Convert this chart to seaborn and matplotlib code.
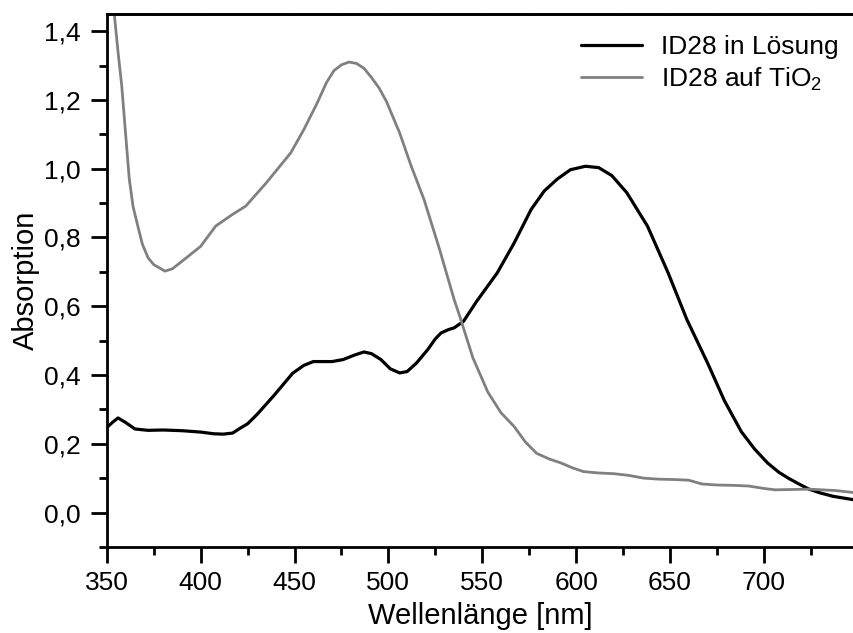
import numpy as np
import pandas as pd
import matplotlib
matplotlib.use("Agg")
import matplotlib.pyplot as plt
from matplotlib.ticker import MultipleLocator, FuncFormatter
import seaborn as sns

# --- data ---
wl_loesung = [350, 353, 356, 360, 365, 372, 380, 390, 400, 407, 412, 417, 421, 425,
              430, 439, 449, 455, 460, 465, 470, 476, 482, 487, 491, 496, 501, 506,
              510, 515, 521, 525, 528, 532, 535, 540, 547, 558, 567, 576, 583, 590,
              597, 605, 612, 619, 627, 638, 649, 659, 670, 679, 688, 695, 702, 708,
              713, 719, 724, 730, 737, 748]
abs_loesung = [0.247, 0.262, 0.275, 0.262, 0.243, 0.239, 0.240, 0.238, 0.234, 0.229,
               0.228, 0.231, 0.245, 0.258, 0.285, 0.340, 0.405, 0.428, 0.439, 0.439,
               0.439, 0.445, 0.458, 0.467, 0.462, 0.445, 0.418, 0.406, 0.410, 0.435,
               0.474, 0.505, 0.522, 0.532, 0.537, 0.556, 0.614, 0.697, 0.784, 0.881,
               0.935, 0.970, 0.997, 1.007, 1.003, 0.980, 0.930, 0.833, 0.697, 0.561,
               0.435, 0.325, 0.235, 0.185, 0.144, 0.117, 0.100, 0.082, 0.068, 0.057,
               0.047, 0.037]

wl_tio2 = [350, 354, 356, 358, 360.5, 362, 364, 367, 369, 372, 375, 381, 385, 389,
           400, 408, 417, 424, 435, 448, 455, 462, 467, 471, 475, 479, 483, 487, 491,
           495, 499, 506, 512, 519, 527, 535, 538, 545, 553, 560, 567, 573, 579, 586,
           592, 598, 604, 612, 620, 628, 636, 644, 652, 660, 667, 675, 684, 692, 700,
           706, 715, 724, 731, 738, 748]
abs_tio2 = [1.62, 1.45, 1.34, 1.24, 1.07, 0.97, 0.89, 0.823, 0.780, 0.741, 0.721,
            0.702, 0.709, 0.726, 0.774, 0.833, 0.867, 0.891, 0.959, 1.046, 1.114,
            1.19, 1.25, 1.285, 1.302, 1.31, 1.306, 1.292, 1.265, 1.235, 1.195, 1.104,
            1.01, 0.91, 0.77, 0.62, 0.571, 0.45, 0.35, 0.29, 0.25, 0.205, 0.172,
            0.155, 0.144, 0.13, 0.119, 0.115, 0.113, 0.108, 0.100, 0.097, 0.096,
            0.094, 0.083, 0.080, 0.079, 0.077, 0.070, 0.066, 0.067, 0.068, 0.066,
            0.064, 0.058]

series_names = ["ID28 in Lösung", "ID28 auf TiO$_2$"]
series_colors = ["#000000", "#808080"]

df = pd.concat([
    pd.DataFrame({"wl": wl_loesung, "abs": abs_loesung, "serie": series_names[0]}),
    pd.DataFrame({"wl": wl_tio2, "abs": abs_tio2, "serie": series_names[1]}),
])

sns.set_theme(style="ticks")
plt.rcParams["font.family"] = ["Liberation Sans", "DejaVu Sans"]
plt.rcParams["mathtext.fontset"] = "custom"
plt.rcParams["mathtext.rm"] = "Liberation Sans"
plt.rcParams["mathtext.it"] = "Liberation Sans"
plt.rcParams["text.color"] = "black"
plt.rcParams["axes.labelcolor"] = "black"

fig = plt.figure(figsize=(8.54, 6.33), dpi=100)
ax = fig.add_axes([0.125, 0.136, 0.875, 0.842])

sns.lineplot(data=df, x="wl", y="abs", hue="serie", palette=series_colors,
             sort=False, estimator=None, linewidth=2, ax=ax)
ax.lines[0].set_linewidth(2.3)

ax.set_xlim(350, 748)
ax.set_ylim(-0.1, 1.45)
ax.xaxis.set_major_locator(MultipleLocator(50))
ax.xaxis.set_minor_locator(MultipleLocator(25))
ax.yaxis.set_major_locator(MultipleLocator(0.2))
ax.yaxis.set_minor_locator(MultipleLocator(0.1))
ax.yaxis.set_major_formatter(FuncFormatter(lambda v, p: f"{v:.1f}".replace(".", ",")))

ax.tick_params(which="both", direction="out", width=2, colors="black", labelsize=19)
ax.tick_params(which="major", length=11.5)
ax.tick_params(which="minor", length=6)
ax.tick_params(axis="y", which="major", pad=7)
ax.tick_params(axis="x", which="major", pad=6)

for side in ["left", "bottom", "top"]:
    ax.spines[side].set_linewidth(2)
    ax.spines[side].set_color("black")
ax.spines["right"].set_visible(False)

top = ax.secondary_xaxis("top")
top.xaxis.set_major_locator(MultipleLocator(25))
top.tick_params(direction="in", length=1.5, width=1.5, labeltop=False)
top.spines["top"].set_linewidth(2)

ax.set_xlabel("Wellenlänge [nm]", fontsize=21, labelpad=5)
ax.set_ylabel("Absorption", fontsize=21, labelpad=3)

leg = ax.legend(loc="upper right", bbox_to_anchor=(1.0, 0.99), frameon=False,
                fontsize=19, handlelength=2.3, handletextpad=0.7, labelspacing=0.25,
                borderaxespad=0.2)
leg.get_lines()[0].set_linewidth(2.3)

fig.savefig("out.png", dpi=100)
